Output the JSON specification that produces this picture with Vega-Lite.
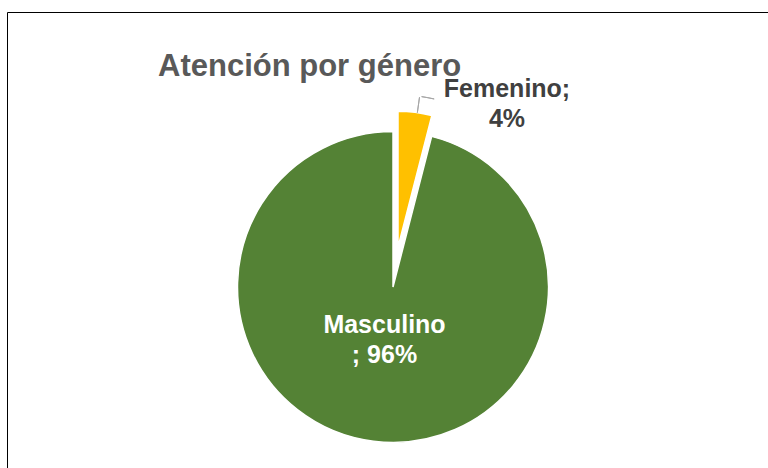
{
  "$schema": "https://vega.github.io/schema/vega-lite/v6.json",
  "width": 772,
  "height": 550,
  "autosize": {"type": "none"},
  "padding": {"left": 7, "top": 12, "right": 0, "bottom": 0},
  "background": "white",
  "view": {"stroke": "#000000", "strokeWidth": 1},
  "title": {
    "text": "Atención por género",
    "anchor": "start",
    "frame": "group",
    "dx": 151,
    "dy": 95,
    "offset": 0,
    "baseline": "alphabetic",
    "font": "Liberation Sans",
    "fontSize": 31,
    "fontWeight": "bold",
    "color": "#595959"
  },
  "data": {
    "values": [
      {"genero": "Femenino", "valor": 4},
      {"genero": "Masculino", "valor": 96}
    ]
  },
  "transform": [
    {"calculate": "datum.genero === 'Femenino' ? [datum.genero + ';', datum.valor + '%'] : [datum.genero, '; ' + datum.valor + '%']", "as": "etiqueta"}
  ],
  "encoding": {
    "theta": {"field": "valor", "type": "quantitative", "stack": true}
  },
  "layer": [
    {
      "mark": {"type": "arc", "radius": 155.5, "stroke": "white", "strokeWidth": 1.5},
      "encoding": {
        "color": {"field": "genero", "type": "nominal", "scale": {"domain": ["Femenino", "Masculino"], "range": ["#FFC000", "#548235"]}, "legend": null},
        "opacity": {"condition": {"test": "datum.genero === 'Femenino'", "value": 0}, "value": 1}
      }
    },
    {
      "mark": {"type": "arc", "radius": 136, "xOffset": 5, "yOffset": -39.7, "stroke": "white", "strokeWidth": 1.5},
      "encoding": {
        "color": {"field": "genero", "type": "nominal", "legend": null},
        "opacity": {"condition": {"test": "datum.genero === 'Masculino'", "value": 0}, "value": 1}
      }
    },
    {
      "mark": {"type": "arc", "filled": false, "radius": 191.6, "radius2": 176, "thetaOffset": 0.0131, "padAngle": 0.3, "strokeWidth": 1},
      "encoding": {
        "detail": {"field": "genero", "type": "nominal"},
        "color": {"value": "#A6A6A6"},
        "opacity": {"condition": {"test": "datum.genero === 'Masculino'", "value": 0}, "value": 1}
      }
    },
    {
      "mark": {"type": "arc", "filled": false, "radius": 192.5, "radius2": 192.5, "thetaOffset": 0.0567, "padAngle": 0.1307, "strokeWidth": 1},
      "encoding": {
        "detail": {"field": "genero", "type": "nominal"},
        "color": {"value": "#A6A6A6"},
        "opacity": {"condition": {"test": "datum.genero === 'Masculino'", "value": 0}, "value": 1}
      }
    },
    {
      "mark": {"type": "text", "radius": 39.4, "thetaOffset": 0.0916, "font": "Liberation Sans", "fontSize": 25, "fontWeight": "bold", "lineHeight": 30, "align": "center", "baseline": "middle"},
      "encoding": {
        "detail": {"field": "genero", "type": "nominal"},
        "text": {"field": "etiqueta"},
        "color": {"value": "#FFFFFF"},
        "opacity": {"condition": {"test": "datum.genero === 'Femenino'", "value": 0}, "value": 1}
      }
    },
    {
      "mark": {"type": "text", "radius": 228.5, "thetaOffset": 0.3967, "font": "Liberation Sans", "fontSize": 25, "fontWeight": "bold", "lineHeight": 30, "align": "center", "baseline": "middle"},
      "encoding": {
        "detail": {"field": "genero", "type": "nominal"},
        "text": {"field": "etiqueta"},
        "color": {"value": "#404040"},
        "opacity": {"condition": {"test": "datum.genero === 'Masculino'", "value": 0}, "value": 1}
      }
    }
  ]
}
